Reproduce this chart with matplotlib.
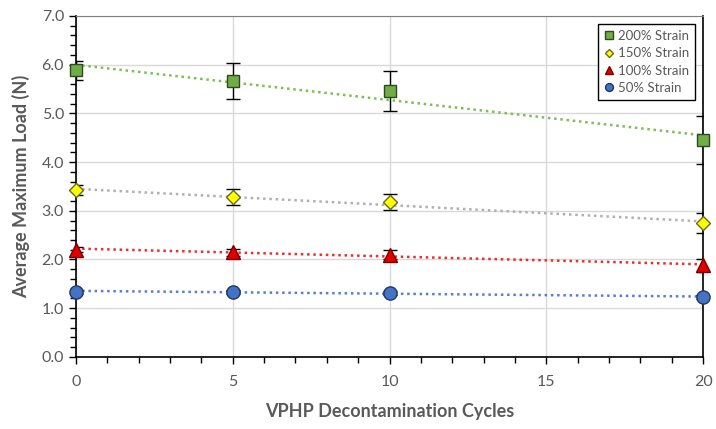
import numpy as np
import matplotlib
matplotlib.use('Agg')
import matplotlib.pyplot as plt
from matplotlib.ticker import MultipleLocator

# ---- data ----
cycles = [0, 5, 10, 20]
labels = ['200% Strain', '150% Strain', '100% Strain', '50% Strain']
load_200 = [5.88, 5.67, 5.45, 4.45]
load_150 = [3.42, 3.28, 3.18, 2.75]
load_100 = [2.20, 2.15, 2.10, 1.88]
load_50  = [1.34, 1.34, 1.31, 1.23]
err_200 = [0.20, 0.37, 0.41, 0.50]
err_150 = [0.10, 0.16, 0.17, 0.20]
err_100 = [0.05, 0.07, 0.09, 0.13]
err_50  = [0.04, 0.04, 0.04, 0.04]

plt.rcParams['font.family'] = ['Lato', 'DejaVu Sans']
GREY = '#595959'

fig = plt.figure(figsize=(7.16, 4.29), dpi=100)
ax = fig.add_axes([0.106, 0.168, 0.876, 0.795])

styles = [
    # values, errors, marker, face, edge, size, trend colour
    (load_200, err_200, 's', '#70AD47', '#2E4A1E', 9,  '#7DBF55'),
    (load_150, err_150, 'D', '#FFFF00', '#6B6B1E', 7.5, '#B0B0B0'),
    (load_100, err_100, '^', '#E00000', '#7A0000', 10, '#E83030'),
    (load_50,  err_50,  'o', '#4472C4', '#1F3864', 9.5, '#5580CC'),
]

x = np.array(cycles, float)
xx = np.array([0, 20], float)
for (y, e, m, fc, ec, ms, tc), lab in zip(styles, labels):
    # linear trendline, like the spreadsheet one
    k, b = np.polyfit(x, y, 1)
    ax.plot(xx, k * xx + b, ls=(0, (1, 1.5)), color=tc, lw=1.8, zorder=2)
    ax.errorbar(x, y, yerr=e, fmt='none', ecolor='black', elinewidth=1,
                capsize=5, capthick=1, zorder=3)
    ax.plot(x, y, ls='none', marker=m, ms=ms, mfc=fc, mec=ec, mew=1,
            label=lab, zorder=4, clip_on=False)

ax.set_xlim(0, 20)
ax.set_ylim(0, 7)
ax.xaxis.set_major_locator(MultipleLocator(5))
ax.xaxis.set_minor_locator(MultipleLocator(1))
ax.yaxis.set_major_locator(MultipleLocator(1))
ax.yaxis.set_minor_locator(MultipleLocator(0.2))
ax.yaxis.set_major_formatter(matplotlib.ticker.FormatStrFormatter('%.1f'))

ax.grid(True, which='major', color='#D9D9D9', lw=1, zorder=0)
ax.set_axisbelow(True)
ax.tick_params(which='both', direction='out', colors='black',
               labelcolor=GREY, labelsize=11.5)
ax.tick_params(which='major', length=5, width=1)
ax.tick_params(which='minor', length=4, width=1)
ax.tick_params(axis='x', pad=8)

for s in ['left', 'bottom', 'right']:
    ax.spines[s].set_color('black')
    ax.spines[s].set_linewidth(1.2)
ax.spines['top'].set_color('#7F7F7F')

ax.set_ylabel('Average Maximum Load (N)', fontsize=13, fontweight='bold',
              color=GREY, labelpad=8)
ax.set_xlabel('VPHP Decontamination Cycles', fontsize=13, fontweight='bold',
              color=GREY, labelpad=10)

leg = ax.legend(loc='upper right', fontsize=9.5, markerscale=0.6,
                handlelength=0.8, handletextpad=0.3, labelspacing=0.4,
                borderpad=0.45, fancybox=False, framealpha=1,
                bbox_to_anchor=(0.998, 0.995))
leg.get_frame().set_edgecolor('black')
leg.get_frame().set_linewidth(1)
for t in leg.get_texts():
    t.set_color(GREY)

fig.savefig('out.png', dpi=100)
